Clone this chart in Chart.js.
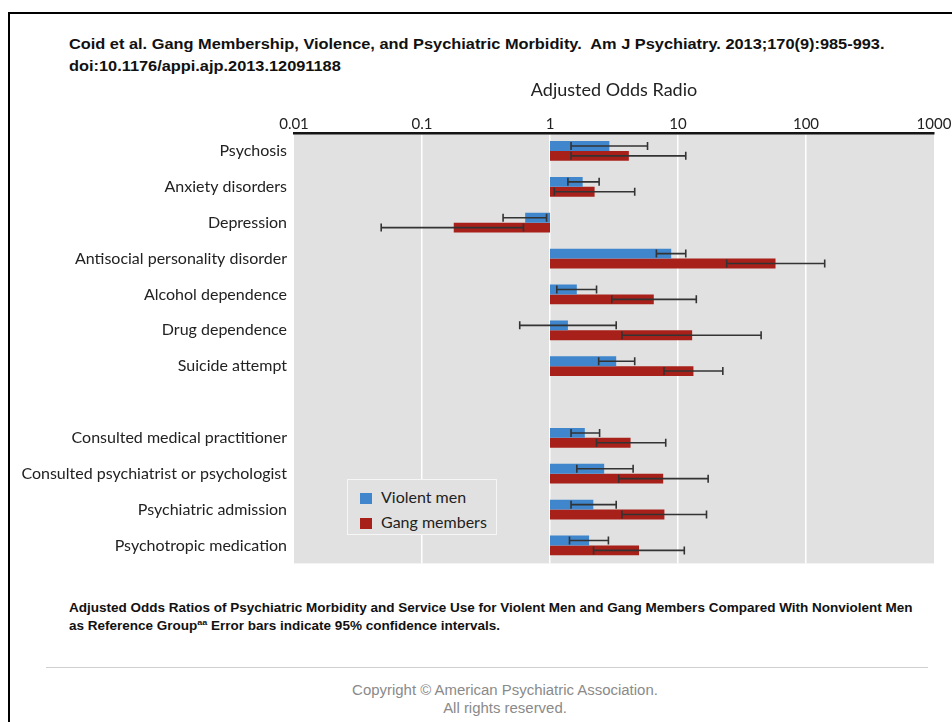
<!DOCTYPE html>
<html>
<head>
<meta charset="utf-8">
<script src="https://cdn.jsdelivr.net/npm/chart.js@4"></script>
<style>
  html, body { margin: 0; padding: 0; background: #fff; }
  body { width: 952px; height: 722px; position: relative; overflow: hidden; font-family: "Liberation Sans", Arial, sans-serif; }
  .frame { position: absolute; left: 8px; top: 12px; width: 1000px; height: 800px; border: 2px solid #000; }
  .header { position: absolute; left: 69px; top: 33px; font-size: 14px; font-weight: bold; line-height: 22px; color: #111; white-space: nowrap; transform: scaleX(1.168); transform-origin: left top; }
  #chart-wrap { position: absolute; left: 0; top: 70px; width: 952px; height: 510px; }
  .legend { position: absolute; left: 347px; top: 479px; width: 148px; height: 54px; background: #e1e1e1; border: 1.5px solid #f6f6f6; font-family: Lato, sans-serif; font-size: 16px; color: #222; }
  .legend-item { position: absolute; left: 12px; height: 20px; line-height: 20px; white-space: nowrap; }
  .legend-item span { display: inline-block; width: 12px; height: 11px; margin-right: 9px; vertical-align: -1px; }
  .caption { position: absolute; left: 69px; top: 599px; font-size: 12px; font-weight: bold; line-height: 18px; color: #111; white-space: nowrap; transform: scaleX(1.125); transform-origin: left top; }
  .caption sup { font-size: 8px; line-height: 0; }
  .rule { position: absolute; left: 46px; top: 667px; width: 882px; height: 1px; background: #cfcfcf; }
  .copyright { position: absolute; left: 0; width: 1010px; top: 681px; text-align: center; font-size: 14px; line-height: 18px; color: #8a8a8a; transform: scaleX(1.067); transform-origin: 505px 0; }
</style>
</head>
<body>
<div class="frame"></div>
<div class="header">Coid et al. Gang Membership, Violence, and Psychiatric Morbidity.&nbsp; Am J Psychiatry. 2013;170(9):985-993.<br>doi:10.1176/appi.ajp.2013.12091188</div>
<div id="chart-wrap"><canvas id="odds-chart" width="952" height="510"></canvas></div>
<div class="legend">
  <div class="legend-item" style="top:7px"><span style="background:#3f86cc"></span>Violent men</div>
  <div class="legend-item" style="top:32px"><span style="background:#a8201a"></span>Gang members</div>
</div>
<div class="caption">Adjusted Odds Ratios of Psychiatric Morbidity and Service Use for Violent Men and Gang Members Compared With Nonviolent Men<br>as Reference Group<sup>aa</sup> Error bars indicate 95% confidence intervals.</div>
<div class="rule"></div>
<div class="copyright">Copyright © American Psychiatric Association.<br>All rights reserved.</div>

<script>
// Chart data
const categories = [
    'Psychosis',
    'Anxiety disorders',
    'Depression',
    'Antisocial personality disorder',
    'Alcohol dependence',
    'Drug dependence',
    'Suicide attempt',
    '',
    'Consulted medical practitioner',
    'Consulted psychiatrist or psychologist',
    'Psychiatric admission',
    'Psychotropic medication'
];

const violentOR   = [2.91, 1.80, 0.64, 8.85, 1.62, 1.38, 3.29, null, 1.87, 2.65, 2.18, 2.02];
const violentLow  = [1.46, 1.38, 0.43, 6.78, 1.13, 0.58, 2.40, null, 1.46, 1.62, 1.46, 1.42];
const violentHigh = [5.78, 2.42, 0.94, 11.5, 2.31, 3.29, 4.59, null, 2.44, 4.46, 3.29, 2.86];

const gangOR   = [4.13, 2.23, 0.177, 57.8, 6.47, 12.9, 13.2, null, 4.26, 7.66, 7.83, 4.96];
const gangLow  = [1.46, 1.08, 0.048, 24.0, 3.04, 3.65, 7.78, null, 2.31, 3.44, 3.65, 2.19];
const gangHigh = [11.5, 4.59, 0.62, 140, 13.9, 44.6, 22.4, null, 8.02, 17.2, 16.7, 11.2];

const oddsTicks = [0.01, 0.1, 1, 10, 100, 1000];
const referenceOR = 1;

const BLUE = '#3f86cc';
const RED = '#a8201a';
const LABEL_FONT = 'Lato, "Open Sans", sans-serif';

// bars start at OR = 1 and run to the estimate
const toRange = arr => arr.map(v => (v == null ? null : [referenceOR, v]));

const plotBackground = {
    id: 'plotBackground',
    beforeDraw(chart) {
        const { ctx, chartArea: a } = chart;
        ctx.save();
        ctx.fillStyle = '#e1e1e1';
        ctx.fillRect(a.left, a.top, a.right - a.left, a.bottom - a.top);
        ctx.restore();
    }
};

const errorBars = {
    id: 'errorBars',
    afterDatasetsDraw(chart) {
        const ctx = chart.ctx;
        const xs = chart.scales.x;
        const ranges = [[violentLow, violentHigh], [gangLow, gangHigh]];
        ctx.save();
        ctx.strokeStyle = '#333333';
        ctx.lineWidth = 1.6;
        ranges.forEach(([lo, hi], d) => {
            chart.getDatasetMeta(d).data.forEach((bar, i) => {
                if (lo[i] == null || hi[i] == null) return;
                const x1 = xs.getPixelForValue(lo[i]);
                const x2 = xs.getPixelForValue(hi[i]);
                const y = bar.y;
                const cap = 4;
                ctx.beginPath();
                ctx.moveTo(x1, y);
                ctx.lineTo(x2, y);
                ctx.moveTo(x1, y - cap);
                ctx.lineTo(x1, y + cap);
                ctx.moveTo(x2, y - cap);
                ctx.lineTo(x2, y + cap);
                ctx.stroke();
            });
        });
        ctx.restore();
    }
};

new Chart(document.getElementById('odds-chart'), {
    type: 'bar',
    data: {
        labels: categories,
        datasets: [
            {
                label: 'Violent men',
                data: toRange(violentOR),
                backgroundColor: BLUE,
                categoryPercentage: 0.55,
                barPercentage: 1.0
            },
            {
                label: 'Gang members',
                data: toRange(gangOR),
                backgroundColor: RED,
                categoryPercentage: 0.55,
                barPercentage: 1.0
            }
        ]
    },
    options: {
        indexAxis: 'y',
        responsive: false,
        animation: false,
        devicePixelRatio: 1,
        layout: { padding: { left: 0, right: 18, top: 0, bottom: 13 } },
        plugins: {
            legend: { display: false },
            tooltip: { enabled: false }
        },
        scales: {
            x: {
                type: 'logarithmic',
                position: 'top',
                min: 0.01,
                max: 1000,
                afterBuildTicks: scale => {
                    scale.ticks = oddsTicks.map(v => ({ value: v }));
                },
                afterFit: scale => { scale.height = 63; },
                ticks: {
                    callback: v => String(v),
                    color: '#222',
                    padding: 0,
                    autoSkip: false,
                    maxRotation: 0,
                    font: { family: LABEL_FONT, size: 15 }
                },
                grid: {
                    drawTicks: false,
                    lineWidth: 1.5,
                    color: c => (c.index === 0 || c.index === oddsTicks.length - 1) ? 'rgba(0,0,0,0)' : '#ffffff'
                },
                border: { display: true, color: '#151515', width: 2.5 },
                title: {
                    display: true,
                    text: 'Adjusted Odds Radio',
                    color: '#222',
                    font: { family: LABEL_FONT, size: 18 },
                    padding: { top: 9, bottom: 4 }
                }
            },
            y: {
                type: 'category',
                afterFit: scale => { scale.width = 294; },
                grid: { display: false, drawTicks: false },
                border: { display: false },
                ticks: {
                    color: '#222',
                    padding: 7,
                    autoSkip: false,
                    font: { family: LABEL_FONT, size: 16 }
                }
            }
        }
    },
    plugins: [plotBackground, errorBars]
});
</script>
</body>
</html>
